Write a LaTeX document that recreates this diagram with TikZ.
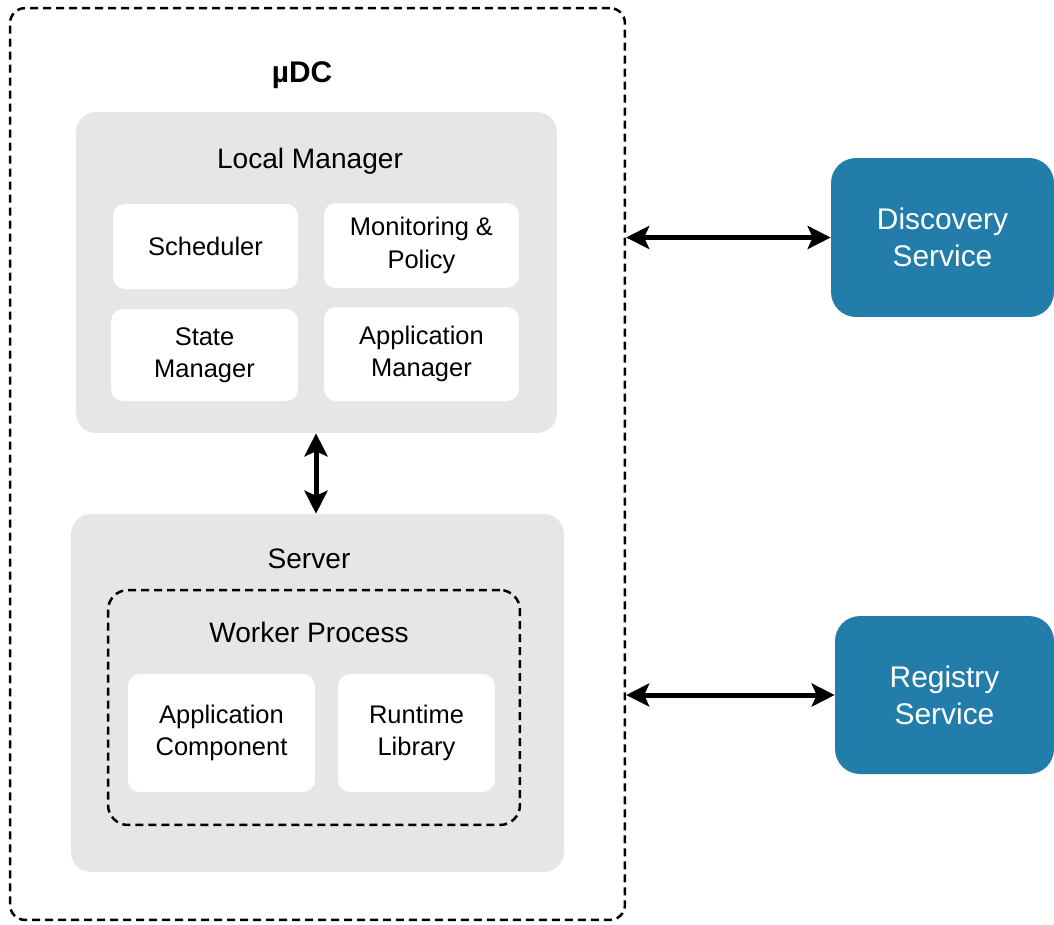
\documentclass[tikz,border=0pt]{standalone}
\usepackage{fontspec}
\setmainfont{Liberation Sans}
\usetikzlibrary{arrows.meta}

\definecolor{boxgray}{HTML}{E6E6E6}
\definecolor{serviceblue}{HTML}{237DAA}
\tikzstyle{frame}=[
  draw,
  line width=0.05cm,
  dash pattern=on 0.16cm off 0.1cm,
  ]
\tikzstyle{group}=[ fill=boxgray, rounded corners=0.4cm ]
\tikzstyle{item}=[
  fill=white,
  rounded corners=0.24cm,
  align=center,
  font=\fontsize{14.5}{18.5}\selectfont,
  ]
\tikzstyle{title}=[ font=\fontsize{16}{19}\selectfont ]
\tikzstyle{service}=[
  fill=serviceblue,
  rounded corners=0.5cm,
  text=white,
  align=center,
  font=\fontsize{17}{21}\selectfont,
  ]
\tikzstyle{link}=[
  line width=0.1cm,
  {Stealth[length=0.46cm,width=0.46cm,inset=0.1cm]}-{Stealth[length=0.46cm,width=0.46cm,inset=0.1cm]},
  ]

\begin{document}
\begin{tikzpicture}[x=0.02cm, y=-0.02cm]
    \useasboundingbox (0,0) rectangle (1054,924);

    \node[frame, rounded corners=0.3cm, minimum width=12.3cm, minimum height=18.24cm] (udc) at (317.5,464) {};
    \node[font=\fontsize{17}{20}\selectfont\bfseries] (udctitle) at (302,75) {µDC};

    % local manager
    \node[group, minimum width=9.62cm, minimum height=6.42cm] (lm) at (316.5,272.5) {};
    \node[title] (lmtitle) at (310,161) {Local Manager};
    \node[item, minimum width=3.7cm, minimum height=1.7cm] (sched) at (205.5,246.5) {Scheduler};
    \node[item, minimum width=3.9cm, minimum height=1.7cm] (monitor) at (421.5,245.5) {Monitoring \&\\Policy};
    \node[item, minimum width=3.74cm, minimum height=1.84cm] (state) at (204.5,355) {State\\Manager};
    \node[item, minimum width=3.9cm, minimum height=1.88cm] (appmgr) at (421.5,354) {Application\\Manager};

    % server
    \node[group, minimum width=9.86cm, minimum height=7.16cm] (server) at (317.5,693) {};
    \node[title] (servertitle) at (309,559) {Server};
    \node[frame, rounded corners=0.4cm, minimum width=8.24cm, minimum height=4.7cm] (worker) at (314,707.5) {};
    \node[title] (workertitle) at (309,632) {Worker Process};
    \node[item, minimum width=3.74cm, minimum height=2.36cm] (appcomp) at (221.5,733) {Application\\Component};
    \node[item, minimum width=3.14cm, minimum height=2.36cm] (runtime) at (416.5,733) {Runtime\\Library};

    \draw[link] (lm.south -| 316,0) -- (server.north -| 316,0);

    % outside services
    \node[service, minimum width=4.46cm, minimum height=3.18cm] (disc) at (942.5,237.5) {Discovery\\Service};
    \node[service, minimum width=4.38cm, minimum height=3.16cm] (reg) at (944.5,695) {Registry\\Service};

    \coordinate (discend) at (udc.east |- disc.west);
    \coordinate (regend) at (udc.east |- reg.west);
    \draw[link] (discend) -- (disc.west);
    \draw[link] (regend) -- (reg.west);
\end{tikzpicture}
\end{document}
